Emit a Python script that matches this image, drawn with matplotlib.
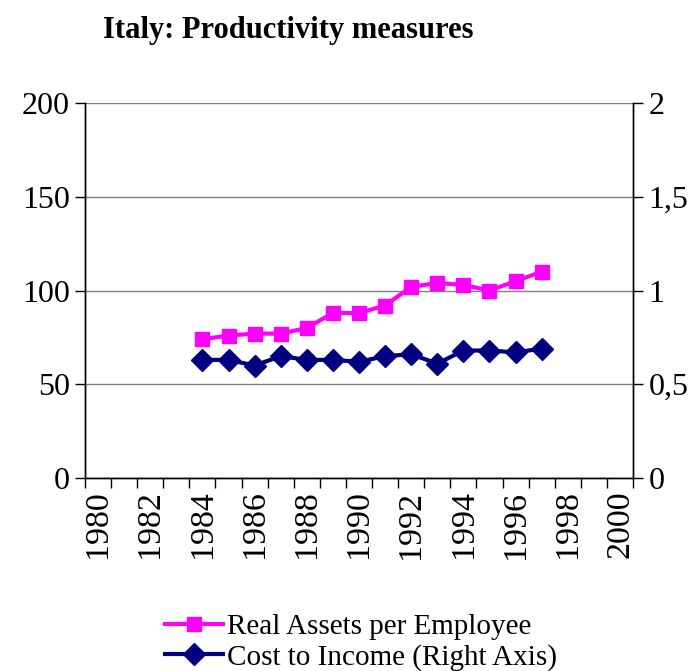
import numpy as np
import matplotlib
matplotlib.use("Agg")
import matplotlib.pyplot as plt

plt.rcParams['font.family'] = ['Liberation Serif', 'DejaVu Serif']

years = [1984, 1985, 1986, 1987, 1988, 1989, 1990, 1991, 1992, 1993, 1994, 1995, 1996, 1997]
assetsPerEmployee = [74, 76, 77, 77, 80, 88, 88, 92, 102, 104, 103, 100, 105, 110]
costToIncome = [0.63, 0.63, 0.60, 0.65, 0.63, 0.63, 0.62, 0.65, 0.66, 0.61, 0.68, 0.68, 0.67, 0.69]
yearLabels = list(range(1980, 2001, 2))
leftTicks = [0, 50, 100, 150, 200]
rightTicks = [0, 0.5, 1, 1.5, 2]
rightTickLabels = ["0", "0,5", "1", "1,5", "2"]

fig = plt.figure(figsize=(6.99, 6.71), dpi=100)
ax = fig.add_axes([0.1216, 0.2876, 0.784, 0.5589])
ax2 = ax.twinx()

# category style x axis: ticks between years, labels at the centre
ax.set_xlim(1979.5, 2000.5)
ax.set_xticks(np.arange(1979.5, 2001, 1))
ax.set_xticklabels([])
ax.set_xticks(yearLabels, minor=True)
ax.set_xticklabels([str(y) for y in yearLabels], minor=True, rotation=90, fontsize=24.5)
ax.tick_params(axis='x', which='major', direction='out', length=7, width=1)
ax.tick_params(axis='x', which='minor', length=0, pad=9)

ax.set_ylim(0, 200)
ax.set_yticks(leftTicks)
ax.set_yticklabels([str(v) for v in leftTicks], fontsize=23)
ax.tick_params(axis='y', direction='out', length=7, width=1, pad=4)
ax.grid(axis='y', color='#808080', linewidth=1)

ax2.set_ylim(0, 2)
ax2.set_yticks(rightTicks)
ax2.set_yticklabels(rightTickLabels, fontsize=23)
ax2.tick_params(axis='y', direction='out', length=7, width=1, pad=4)

for a in (ax, ax2):
    a.spines['top'].set_visible(False)
    for s in ('left', 'right', 'bottom'):
        a.spines[s].set_color('black')
        a.spines[s].set_linewidth(1)

l1, = ax.plot(years, assetsPerEmployee, color='#FF00FF', linewidth=3, marker='s',
              markersize=10, label='Real Assets per Employee')
l2, = ax2.plot(years, costToIncome, color='#000080', linewidth=3, marker='D',
               markersize=11, label='Cost to Income (Right Axis)')

fig.text(0.147, 0.955, "Italy: Productivity measures", fontsize=22, fontweight='bold',
         ha='left', va='center')

fig.legend(handles=[l1, l2], loc='center left', bbox_to_anchor=(0.219, 0.043),
           frameon=False, fontsize=21, handlelength=2.0, handletextpad=0.15,
           labelspacing=0.12, borderaxespad=0)

fig.savefig("out.png", dpi=100)
